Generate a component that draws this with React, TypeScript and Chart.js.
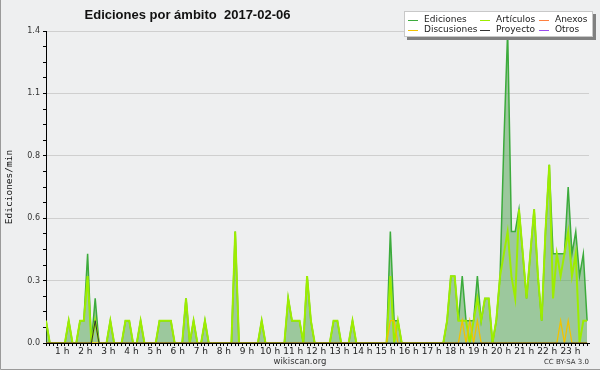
import React, { useEffect, useRef } from 'react';
import { Chart, registerables } from 'chart.js';

Chart.register(...registerables);

// 10-minute bins, 0 h 00 .. 23 h 50 (6 per row = 1 hour)
const ediciones = [
  0.1, 0, 0, 0, 0, 0,
  0.1, 0, 0, 0.1, 0.1, 0.4,
  0, 0.2, 0, 0, 0, 0.1,
  0, 0, 0, 0.1, 0.1, 0,
  0, 0.1, 0, 0, 0, 0,
  0.1, 0.1, 0.1, 0.1, 0, 0,
  0, 0.2, 0, 0.1, 0, 0,
  0.1, 0, 0, 0, 0, 0,
  0, 0, 0.5, 0, 0, 0,
  0, 0, 0, 0.1, 0, 0,
  0, 0, 0, 0, 0.2, 0.1,
  0.1, 0.1, 0, 0.3, 0.1, 0,
  0, 0, 0, 0, 0.1, 0.1,
  0, 0, 0, 0.1, 0, 0,
  0, 0, 0, 0, 0, 0,
  0, 0.5, 0.1, 0.1, 0, 0,
  0, 0, 0, 0, 0, 0,
  0, 0, 0, 0, 0.1, 0.3,
  0.3, 0.1, 0.3, 0.1, 0.1, 0.1,
  0.3, 0.1, 0.2, 0.2, 0, 0.1,
  0.3, 0.9, 1.4, 0.5, 0.5, 0.6,
  0.4, 0.2, 0.4, 0.6, 0.3, 0.1,
  0.5, 0.8, 0.4, 0.4, 0.4, 0.4,
  0.7, 0.4, 0.5, 0.3, 0.4, 0.1,
];

const articulos = [
  0.1, 0, 0, 0, 0, 0,
  0.1, 0, 0, 0.1, 0.1, 0.3,
  0, 0.1, 0, 0, 0, 0.1,
  0, 0, 0, 0.1, 0.1, 0,
  0, 0.1, 0, 0, 0, 0,
  0.1, 0.1, 0.1, 0.1, 0, 0,
  0, 0.2, 0, 0.1, 0, 0,
  0.1, 0, 0, 0, 0, 0,
  0, 0, 0.5, 0, 0, 0,
  0, 0, 0, 0.1, 0, 0,
  0, 0, 0, 0, 0.2, 0.1,
  0.1, 0.1, 0, 0.3, 0.1, 0,
  0, 0, 0, 0, 0.1, 0.1,
  0, 0, 0, 0.1, 0, 0,
  0, 0, 0, 0, 0, 0,
  0, 0.3, 0, 0.1, 0, 0,
  0, 0, 0, 0, 0, 0,
  0, 0, 0, 0, 0.1, 0.3,
  0.3, 0.1, 0.1, 0.1, 0, 0.1,
  0.2, 0.1, 0.2, 0.2, 0, 0.1,
  0.3, 0.4, 0.5, 0.3, 0.2, 0.6,
  0.4, 0.2, 0.4, 0.6, 0.3, 0.1,
  0.5, 0.8, 0.2, 0.4, 0.3, 0.4,
  0.5, 0.3, 0.4, 0, 0.1, 0.1,
];

const discusiones = [
  0, 0, 0, 0, 0, 0,
  0, 0, 0, 0, 0, 0,
  0, 0, 0, 0, 0, 0,
  0, 0, 0, 0, 0, 0,
  0, 0, 0, 0, 0, 0,
  0, 0, 0, 0, 0, 0,
  0, 0, 0, 0, 0, 0,
  0, 0, 0, 0, 0, 0,
  0, 0, 0, 0, 0, 0,
  0, 0, 0, 0, 0, 0,
  0, 0, 0, 0, 0, 0,
  0, 0, 0, 0, 0, 0,
  0, 0, 0, 0, 0, 0,
  0, 0, 0, 0, 0, 0,
  0, 0, 0, 0, 0, 0,
  0, 0.1, 0.1, 0, 0, 0,
  0, 0, 0, 0, 0, 0,
  0, 0, 0, 0, 0, 0,
  0, 0, 0.1, 0, 0.1, 0,
  0.1, 0, 0, 0, 0, 0,
  0, 0, 0, 0, 0, 0,
  0, 0, 0, 0, 0, 0,
  0, 0, 0, 0, 0.1, 0,
  0.1, 0, 0, 0, 0, 0,
];

const proyecto = [
  0, 0, 0, 0, 0, 0,
  0, 0, 0, 0, 0, 0,
  0, 0.1, 0, 0, 0, 0,
  0, 0, 0, 0, 0, 0,
  0, 0, 0, 0, 0, 0,
  0, 0, 0, 0, 0, 0,
  0, 0, 0, 0, 0, 0,
  0, 0, 0, 0, 0, 0,
  0, 0, 0, 0, 0, 0,
  0, 0, 0, 0, 0, 0,
  0, 0, 0, 0, 0, 0,
  0, 0, 0, 0, 0, 0,
  0, 0, 0, 0, 0, 0,
  0, 0, 0, 0, 0, 0,
  0, 0, 0, 0, 0, 0,
  0, 0, 0, 0, 0, 0,
  0, 0, 0, 0, 0, 0,
  0, 0, 0, 0, 0, 0,
  0, 0, 0, 0, 0, 0,
  0, 0, 0, 0, 0, 0,
  0, 0, 0, 0, 0, 0,
  0, 0, 0, 0, 0, 0,
  0, 0, 0, 0, 0, 0,
  0, 0, 0, 0, 0, 0,
];

// no edits in these scopes on this day
const anexos: number[] = [];
const otros: number[] = [];

const hourTicks = [
  '1 h', '2 h', '3 h', '4 h', '5 h', '6 h', '7 h', '8 h', '9 h', '10 h', '11 h', '12 h',
  '13 h', '14 h', '15 h', '16 h', '17 h', '18 h', '19 h', '20 h', '21 h', '22 h', '23 h',
];
const yTickLabels = ['0.0', '0.3', '0.6', '0.8', '1.1', '1.4'];

const TITLE = 'Ediciones por ámbito  2017-02-06';
const Y_TITLE = 'Ediciones/min';
const FOOT_CENTER = 'wikiscan.org';
const FOOT_RIGHT = 'CC BY-SA 3.0';

const W = 600;
const H = 370;

const toXY = (arr: number[]) => arr.map((v, i) => ({ x: i, y: v }));

const decor = {
  id: 'decor',
  beforeDraw(chart: any) {
    const ctx = chart.ctx;
    ctx.save();
    ctx.fillStyle = '#eeeff0';
    ctx.fillRect(0, 0, W, H);
    ctx.restore();
  },
  afterDraw(chart: any) {
    const ctx = chart.ctx;
    ctx.save();
    // title
    ctx.fillStyle = '#111';
    ctx.font = 'bold 13px "Liberation Sans", sans-serif';
    ctx.textAlign = 'center';
    ctx.textBaseline = 'middle';
    ctx.fillText(TITLE, 187.5, 15);

    // legend box
    const bx = 404, by = 11, bw = 189, bh = 26;
    ctx.fillStyle = '#808080';
    ctx.fillRect(bx + 3, by + 3, bw, bh);
    ctx.fillStyle = '#ffffff';
    ctx.fillRect(bx, by, bw, bh);
    ctx.strokeStyle = '#c8c8c8';
    ctx.lineWidth = 1;
    ctx.strokeRect(bx + 0.5, by + 0.5, bw - 1, bh - 1);

    const ds = chart.data.datasets;
    const colX = [408, 480, 539];
    const rowY = [19.5, 29.5];
    ctx.font = '9px "DejaVu Sans", sans-serif';
    ctx.textAlign = 'left';
    ctx.textBaseline = 'middle';
    ds.forEach((d: any, i: number) => {
      const c = i % 3;
      const r = Math.floor(i / 3);
      const x = colX[c];
      const y = rowY[r];
      ctx.strokeStyle = d.borderColor;
      ctx.lineWidth = 1;
      ctx.beginPath();
      ctx.moveTo(x, Math.round(y) + 0.5);
      ctx.lineTo(x + 10, Math.round(y) + 0.5);
      ctx.stroke();
      ctx.fillStyle = '#222';
      ctx.fillText(d.label, x + 16, y);
    });

    // footer texts
    ctx.fillStyle = '#333';
    ctx.font = '8.5px "DejaVu Sans", sans-serif';
    ctx.textAlign = 'center';
    ctx.fillText(FOOT_CENTER, 300, 361.5);
    ctx.font = '7px "DejaVu Sans", sans-serif';
    ctx.textAlign = 'right';
    ctx.fillText(FOOT_RIGHT, 589, 362);

    // frame
    ctx.strokeStyle = '#9a9a9a';
    ctx.lineWidth = 1;
    ctx.beginPath();
    ctx.moveTo(0.5, 0);
    ctx.lineTo(0.5, H - 0.5);
    ctx.lineTo(W, H - 0.5);
    ctx.stroke();
    ctx.restore();
  },
};

export default function App() {
  const ref = useRef<HTMLCanvasElement | null>(null);

  useEffect(() => {
    document.body.style.margin = '0';
    const canvas = ref.current;
    if (!canvas) return;
    const line = (label: string, data: number[], color: string, width: number, order: number, extra: any = {}) => ({
      label,
      data: toXY(data),
      borderColor: color,
      backgroundColor: color,
      borderWidth: width,
      pointRadius: 0,
      tension: 0,
      fill: false,
      order,
      ...extra,
    });
    const chart = new Chart(canvas, {
      type: 'line',
      data: {
        datasets: [
          line('Ediciones', ediciones, '#3cab3c', 1.5, 10, { fill: 'origin', backgroundColor: 'rgba(80,165,80,0.52)' }),
          line('Artículos', articulos, '#9ded00', 2, 6),
          line('Anexos', anexos, '#ff8040', 1, 4),
          line('Discusiones', discusiones, '#f2c200', 1.3, 3),
          line('Proyecto', proyecto, '#333333', 1, 2),
          line('Otros', otros, '#9b4cf0', 1, 1),
        ],
      },
      options: {
        responsive: false,
        animation: false,
        devicePixelRatio: 1,
        events: [],
        layout: { padding: { left: 0, right: 11, top: 31, bottom: 0 } },
        plugins: {
          legend: { display: false },
          title: { display: false },
          tooltip: { enabled: false },
        },
        scales: {
          x: {
            type: 'linear',
            position: 'bottom',
            weight: 0,
            z: 1,
            min: 0,
            max: 143.5,
            afterFit: (s: any) => { s.height = 2; },
            border: { display: true, color: '#000', width: 1 },
            grid: { drawOnChartArea: false, drawTicks: true, tickLength: 3, tickColor: '#000', color: '#000' },
            ticks: { stepSize: 1, display: false, includeBounds: false, autoSkip: false },
          },
          x2: {
            type: 'linear',
            position: 'bottom',
            weight: 1,
            min: 0.2987,
            max: 23.805,
            afterFit: (s: any) => { s.height = 25; },
            border: { display: false },
            grid: { display: false, drawTicks: false },
            ticks: {
              stepSize: 1,
              includeBounds: false,
              autoSkip: false,
              maxRotation: 0,
              padding: 1,
              color: '#222',
              font: { family: '"DejaVu Sans", sans-serif', size: 9 },
              callback: (v: any) => hourTicks[Math.round(v) - 1] ?? '',
            },
          },
          y: {
            type: 'linear',
            min: 0,
            max: 1.4,
            afterFit: (s: any) => { s.width = 46; },
            border: { display: true, color: '#000', width: 1 },
            grid: {
              color: (c: any) => (c.index % 4 === 0 && c.index > 0 ? '#cfcfcf' : 'rgba(0,0,0,0)'),
              tickColor: '#000',
              tickLength: 3,
              drawTicks: true,
            },
            ticks: {
              stepSize: 0.07,
              autoSkip: false,
              padding: 3,
              color: '#333',
              font: { family: '"DejaVu Sans", sans-serif', size: 8 },
              callback: (_v: any, i: number) => (i % 4 === 0 ? yTickLabels[i / 4] : ''),
            },
            title: {
              display: true,
              text: Y_TITLE,
              color: '#111',
              font: { family: '"DejaVu Sans Mono", monospace', size: 9.5 },
              padding: { top: 4, bottom: 0 },
            },
          },
        },
      } as any,
      plugins: [decor],
    });
    return () => chart.destroy();
  }, []);

  return (
    <div style={{ width: W, height: H, position: 'relative' }}>
      <canvas ref={ref} width={W} height={H} style={{ display: 'block', width: W, height: H }} />
    </div>
  );
}
